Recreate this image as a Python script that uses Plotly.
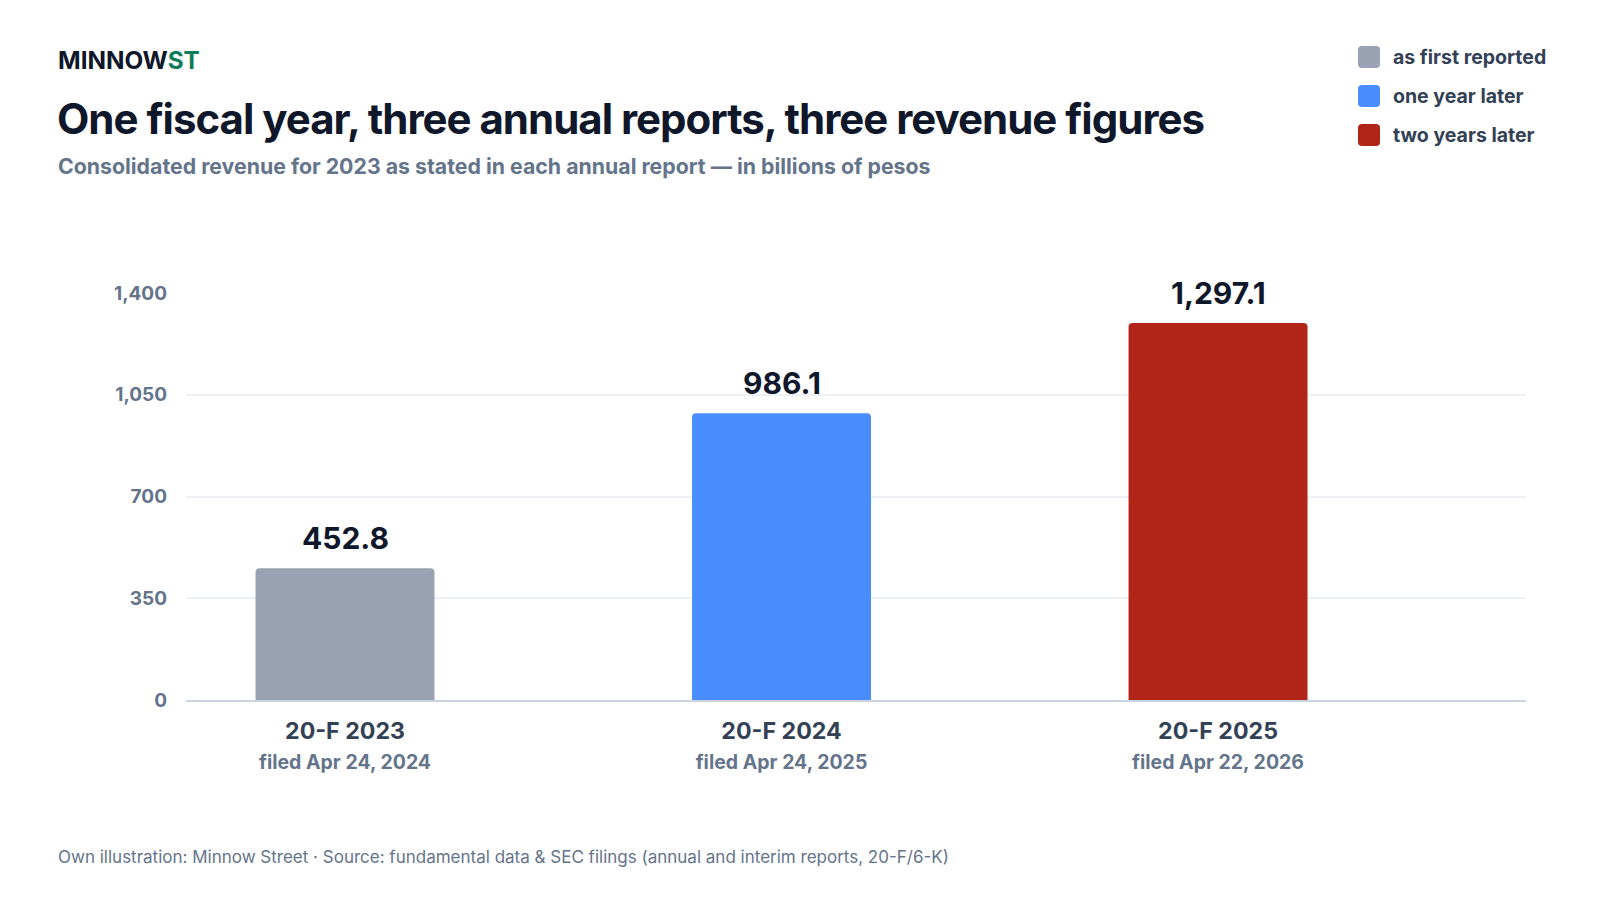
import plotly.graph_objects as go

# ---- data ----
categories = ["20-F 2023", "20-F 2024", "20-F 2025"]
filed_dates = ["filed Apr 24, 2024", "filed Apr 24, 2025", "filed Apr 22, 2026"]
revenue = [452.8, 986.1, 1297.1]
series_names = ["as first reported", "one year later", "two years later"]
bar_colors = ["#9AA3B3", "#4A8DFF", "#B22318"]
y_ticks = [0, 350, 700, 1050, 1400]

FONT = "Inter, Liberation Sans, Arial, sans-serif"
OFF = 8  # page margin of the browser
W, H = 1600 - 2 * OFF, 900 - 2 * OFF
PL, PR, PT, PB = 186, 1526, 293, 700  # plot area in page pixels
L, T = PL - OFF, PT - OFF
R, B = W - (PR - OFF), H - (PB - OFF)
PW, PH = PR - PL, PB - PT


def px(xp):
    return (xp - PL) / PW


def py(yp):
    return (PB - yp) / PH


fig = go.Figure()
fig.add_trace(go.Bar(
    x=categories,
    y=revenue,
    width=0.41,
    marker=dict(color=bar_colors, line=dict(width=0), cornerradius=4),
    showlegend=False,
    hoverinfo="x+y",
))

ticktext = [
    f"{c}<br><span style='font-size:19.5px;color:#64748B'>{d}</span>"
    for c, d in zip(categories, filed_dates)
]

annotations = []
# value labels
for c, v in zip(categories, revenue):
    annotations.append(dict(
        x=c, y=v, xref="x", yref="y", text=f"{v:,.1f}", showarrow=False,
        yanchor="bottom", yshift=10,
        font=dict(family=FONT, size=30, color="#0F172A", weight=700),
    ))

# brand, title, subtitle
annotations.append(dict(
    x=px(56), y=py(60), xref="paper", yref="paper", xanchor="left", yanchor="middle",
    text="MINNOW<span style='color:#0F7B5A'>ST</span>", showarrow=False,
    font=dict(family=FONT, size=24.3, color="#0F172A", weight=700),
))
annotations.append(dict(
    x=px(55), y=py(118), xref="paper", yref="paper", xanchor="left", yanchor="middle",
    text="<span style='letter-spacing:-1px'>One fiscal year, three annual reports, three revenue figures</span>",
    showarrow=False,
    font=dict(family=FONT, size=42, color="#0F172A", weight=700),
))
annotations.append(dict(
    x=px(56), y=py(166), xref="paper", yref="paper", xanchor="left", yanchor="middle",
    text="Consolidated revenue for 2023 as stated in each annual report \u2014 in billions of pesos",
    showarrow=False,
    font=dict(family=FONT, size=21.3, color="#64748B", weight=700),
))
# footer
annotations.append(dict(
    x=px(56), y=py(857), xref="paper", yref="paper", xanchor="left", yanchor="middle",
    text="Own illustration: Minnow Street \u00b7 Source: fundamental data & SEC filings (annual and interim reports, 20-F/6-K)",
    showarrow=False,
    font=dict(family=FONT, size=17, color="#64748B"),
))

# legend (custom, larger rounded swatches)
shapes = []
legend_rows_y = [57, 96, 135]
sq = "M -7,-11 L 7,-11 Q 11,-11 11,-7 L 11,7 Q 11,11 7,11 L -7,11 Q -11,11 -11,7 L -11,-7 Q -11,-11 -7,-11 Z"
for name, col, ry in zip(series_names, bar_colors, legend_rows_y):
    shapes.append(dict(
        type="path", xref="paper", yref="paper",
        xsizemode="pixel", ysizemode="pixel",
        xanchor=px(1369), yanchor=py(ry), path=sq,
        fillcolor=col, line=dict(width=0), layer="above",
    ))
    annotations.append(dict(
        x=px(1391), y=py(ry), xref="paper", yref="paper", xanchor="left", yanchor="middle",
        text=name, showarrow=False,
        font=dict(family=FONT, size=19.5, color="#334155", weight=700),
    ))

fig.update_layout(
    width=W, height=H,
    margin=dict(l=L, r=R, t=T, b=B, autoexpand=False),
    paper_bgcolor="white", plot_bgcolor="white",
    font=dict(family=FONT),
    annotations=annotations,
    shapes=shapes,
    showlegend=False,
    xaxis=dict(
        type="category",
        range=[-0.3643, 2.7055],
        tickvals=categories, ticktext=ticktext,
        tickfont=dict(family=FONT, size=23.2, color="#334155", weight=700),
        showgrid=False, zeroline=False,
        showline=True, linecolor="#CBD5E1", linewidth=2,
        ticks="", ticklabelstandoff=9,
        fixedrange=True,
    ),
    yaxis=dict(
        range=[0, 1400],
        tickvals=y_ticks, tickformat=",",
        tickfont=dict(family=FONT, size=19, color="#64748B", weight=700),
        showgrid=True, gridcolor="#EDF1F6", gridwidth=2,
        zeroline=False, showline=False,
        ticks="", ticklabelstandoff=18,
        fixedrange=True,
    ),
)

fig.write_html("out.html")
